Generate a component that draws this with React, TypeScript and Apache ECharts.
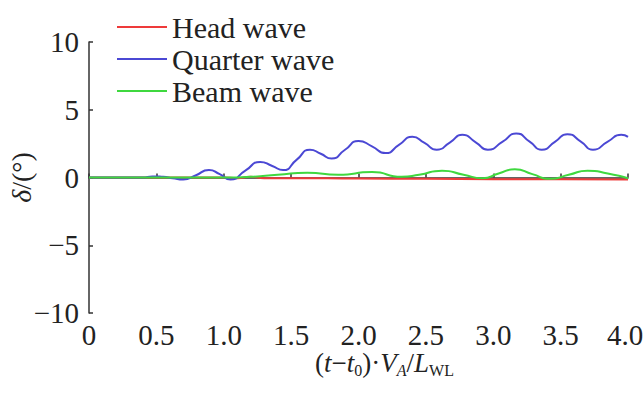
import React, { useEffect, useRef } from "react";
import * as echarts from "echarts";

const xTicks = [0, 0.5, 1.0, 1.5, 2.0, 2.5, 3.0, 3.5, 4.0];
const yTicks = [-10, -5, 0, 5, 10];
const seriesNames = ["Head wave", "Quarter wave", "Beam wave"];
const seriesColors = ["#ee3a3a", "#4b48d4", "#3fd83f"];

const headWave: [number, number][] = [
  [0, 0], [1.0, 0], [1.1, -0.05], [1.2, 0.05], [1.3, -0.05], [1.5, -0.05],
  [2.0, -0.08], [2.5, -0.1], [3.0, -0.12], [3.5, -0.13], [4.0, -0.15],
];

const quarterWave: [number, number][] = [
  [0, 0], [0.4, 0], [0.47, 0.08], [0.55, 0.05], [0.62, -0.05], [0.7, -0.15],
  [0.79, 0.15], [0.89, 0.55], [0.97, 0.25], [1.05, -0.15], [1.16, 0.5],
  [1.27, 1.15], [1.36, 0.85], [1.44, 0.55], [1.54, 1.3], [1.64, 2.05],
  [1.72, 1.75], [1.8, 1.4], [1.9, 2.05], [2.0, 2.7], [2.1, 2.3], [2.2, 1.8],
  [2.3, 2.4], [2.4, 3.0], [2.49, 2.55], [2.58, 2.05], [2.68, 2.6], [2.77, 3.15],
  [2.87, 2.6], [2.96, 2.05], [3.07, 2.65], [3.17, 3.25], [3.27, 2.65], [3.36, 2.05],
  [3.46, 2.65], [3.55, 3.2], [3.65, 2.65], [3.74, 2.05], [3.85, 2.65], [3.95, 3.15],
  [4.0, 3.0],
];

const beamWave: [number, number][] = [
  [0, 0], [1.0, 0], [1.2, 0.05], [1.4, 0.2], [1.62, 0.35], [1.85, 0.2],
  [2.1, 0.4], [2.32, 0.05], [2.45, 0.2], [2.62, 0.5], [2.78, 0.2], [2.92, -0.05],
  [3.04, 0.3], [3.16, 0.6], [3.29, 0.25], [3.42, -0.1], [3.56, 0.2], [3.7, 0.5],
  [3.85, 0.3], [4.0, -0.05],
];

const FONT = "'Liberation Serif', 'Times New Roman', serif";

export default function App() {
  const ref = useRef<HTMLDivElement>(null);
  useEffect(() => {
    if (!ref.current) return;
    const chart = echarts.init(ref.current, null, { renderer: "svg" });
    const datasets = [headWave, quarterWave, beamWave];
    const xMax = xTicks[xTicks.length - 1];
    chart.setOption({
      animation: false,
      backgroundColor: "#ffffff",
      grid: {
        left: 89,
        right: 16,
        top: 42,
        bottom: 86,
        containLabel: false,
        outerBoundsMode: "none",
      },
      legend: {
        orient: "vertical",
        left: 112,
        top: 7,
        icon: "rect",
        itemWidth: 50,
        itemHeight: 2,
        itemGap: 2,
        data: seriesNames,
        textStyle: { fontFamily: FONT, fontSize: 30, lineHeight: 30, color: "#222" },
      },
      xAxis: {
        type: "value",
        min: xTicks[0],
        max: xMax,
        interval: 0.5,
        name: "{n|(}{i|t}{n|−}{i|t}{s|0}{n|)·}{i|V}{si|A}{n|/}{i|L}{s|WL}",
        nameLocation: "middle",
        nameGap: 35,
        nameMoveOverlap: false,
        nameTextStyle: {
          padding: [0, 0, 0, 52],
          rich: {
            n: { fontFamily: FONT, fontSize: 27, color: "#222" },
            i: { fontFamily: FONT, fontSize: 27, fontStyle: "italic", color: "#222" },
            s: { fontFamily: FONT, fontSize: 16, color: "#222", padding: [14, 0, 0, 0] },
            si: { fontFamily: FONT, fontSize: 16, fontStyle: "italic", color: "#222", padding: [14, 0, 0, 0] },
          },
        },
        axisLine: { show: true, lineStyle: { color: "#333", width: 1.5 } },
        axisTick: { show: true, inside: true, length: 4, lineStyle: { color: "#333", width: 1.5 } },
        splitLine: { show: false },
        axisLabel: {
          margin: 7,
          fontFamily: FONT,
          fontSize: 29,
          color: "#222",
          formatter: (v: number) =>
            v === 0 ? "0" : v === xMax ? "{r|" + v.toFixed(1) + "}" : v.toFixed(1),
          rich: {
            r: { fontFamily: FONT, fontSize: 29, color: "#222", padding: [0, 6, 0, 0] },
          },
        },
      },
      yAxis: {
        type: "value",
        min: yTicks[0],
        max: yTicks[yTicks.length - 1],
        interval: 5,
        name: "{i|δ}{n|/(°)}",
        nameLocation: "middle",
        nameGap: 54,
        nameMoveOverlap: false,
        nameTextStyle: {
          rich: {
            n: { fontFamily: FONT, fontSize: 28, color: "#222" },
            i: { fontFamily: FONT, fontSize: 28, fontStyle: "italic", color: "#222" },
          },
        },
        axisLine: { show: true, lineStyle: { color: "#333", width: 1.5 } },
        axisTick: { show: true, inside: true, length: 4, lineStyle: { color: "#333", width: 1.5 } },
        splitLine: { show: false },
        axisLabel: {
          margin: 10,
          fontFamily: FONT,
          fontSize: 29,
          color: "#222",
          formatter: (v: number) => (v < 0 ? "−" + Math.abs(v) : String(v)),
        },
      },
      series: seriesNames.map((name, i) => ({
        name,
        type: "line",
        data: datasets[i],
        smooth: 0.6,
        symbol: "none",
        lineStyle: { color: seriesColors[i], width: 2 },
        itemStyle: { color: seriesColors[i] },
      })),
    });
    return () => chart.dispose();
  }, []);
  return (
    <div
      ref={ref}
      style={{ position: "fixed", left: 0, top: 0, width: 644, height: 399, background: "#fff" }}
    />
  );
}
